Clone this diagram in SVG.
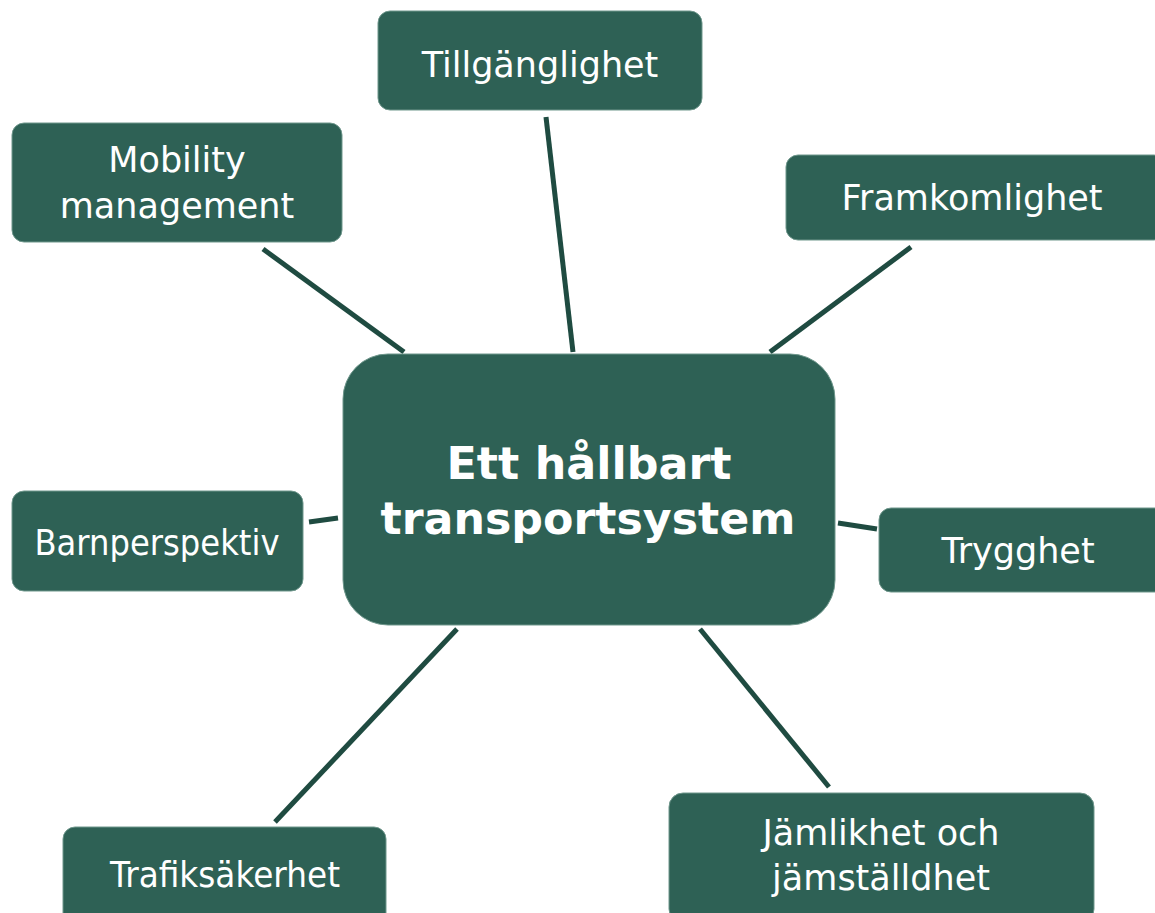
<svg xmlns="http://www.w3.org/2000/svg" width="1155" height="913" viewBox="0 0 1155 913">
<style>
.box{fill:#2e6155;stroke:#6f978c;stroke-width:1}
.t{font-family:"DejaVu Sans","Liberation Sans",sans-serif;font-size:35px;fill:#ffffff;text-anchor:middle}
.b{font-family:"DejaVu Sans","Liberation Sans",sans-serif;font-size:45px;font-weight:bold;fill:#ffffff;text-anchor:middle}
.c{stroke:#1f4b41;stroke-width:5;fill:none}
</style>
<rect width="1155" height="913" fill="#ffffff"/>
<g id="connectors">
<line class="c" x1="546" y1="117" x2="573" y2="352"/>
<line class="c" x1="263" y1="249" x2="404" y2="352"/>
<line class="c" x1="911" y1="247" x2="770" y2="352"/>
<line class="c" x1="309" y1="522" x2="338" y2="518"/>
<line class="c" x1="838" y1="523" x2="877" y2="529"/>
<line class="c" x1="457" y1="629" x2="275" y2="822"/>
<line class="c" x1="700" y1="629" x2="829" y2="787"/>
</g>
<g id="center">
<rect class="box" x="343" y="354" width="492" height="271" rx="45"/>
<text class="b" x="589" y="479" textLength="285" lengthAdjust="spacingAndGlyphs">Ett hållbart</text>
<text class="b" x="588" y="534" textLength="415" lengthAdjust="spacingAndGlyphs">transportsystem</text>
</g>
<g id="tillganglighet">
<rect class="box" x="378" y="11" width="324" height="99" rx="12"/>
<text class="t" x="540" y="77">Tillgänglighet</text>
</g>
<g id="mobility">
<rect class="box" x="12" y="123" width="330" height="119" rx="12"/>
<text class="t" x="177" y="172">Mobility</text>
<text class="t" x="177" y="218">management</text>
</g>
<g id="framkomlighet">
<rect class="box" x="786" y="155" width="380" height="85" rx="12"/>
<text class="t" x="972" y="210">Framkomlighet</text>
</g>
<g id="barnperspektiv">
<rect class="box" x="12" y="491" width="291" height="100" rx="12"/>
<text class="t" x="157" y="555" textLength="245" lengthAdjust="spacingAndGlyphs">Barnperspektiv</text>
</g>
<g id="trygghet">
<rect class="box" x="879" y="508" width="290" height="84" rx="12"/>
<text class="t" x="1018" y="563">Trygghet</text>
</g>
<g id="trafiksakerhet">
<rect class="box" x="63" y="827" width="323" height="100" rx="12"/>
<text class="t" x="225" y="887" textLength="230" lengthAdjust="spacingAndGlyphs">Trafiksäkerhet</text>
</g>
<g id="jamlikhet">
<rect class="box" x="669" y="793" width="425" height="130" rx="14"/>
<text class="t" x="881" y="845">Jämlikhet och</text>
<text class="t" x="881" y="890">jämställdhet</text>
</g>
</svg>
